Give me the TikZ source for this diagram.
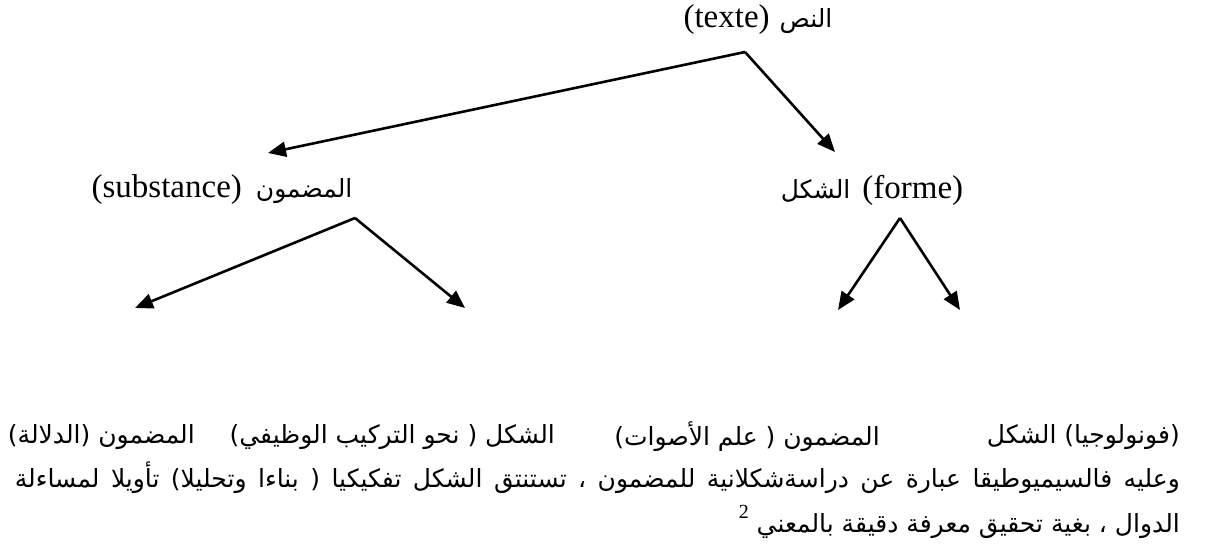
\documentclass[tikz,border=0pt]{standalone}
\usepackage{fontspec}
\setmainfont{Liberation Serif}
\newfontfamily\ar[Script=Arabic]{DejaVu Sans}
\TeXXeTstate=1
\usetikzlibrary{arrows.meta}
% Latin run inside right-to-left text
\newcommand\lat[1]{\beginL{\rmfamily\fontsize{33}{40}\selectfont #1}\endL}
\newcommand\artext{\ar\fontsize{25}{30}\selectfont}
\tikzset{
  branch/.style={line width=2.6pt, -{Triangle[length=18pt,width=15pt]}},
  lbl/.style={inner sep=0pt, font=\artext},
}
\begin{document}
\begin{tikzpicture}[x=1pt,y=-1pt]
\useasboundingbox (0,0) rectangle (1210,557);

% tree labels
\node[lbl] (texte) at (758,20) {\beginR النص\hspace{10pt}\lat{(texte)}\endR};
\node[lbl] (subst) at (222,190) {\beginR المضمون\hspace{14pt}\lat{(substance)}\endR};
\node[lbl] (forme) at (872,190) {\beginR\lat{(forme)}\hspace{12pt}الشكل\endR};

% leaves
\node[lbl,anchor=east] (phon) at (1180,437) {\beginR (فونولوجيا) الشكل\endR};
\node[lbl,anchor=east] (phonet) at (880,437) {\beginR المضمون ( علم الأصوات)\endR};
\node[lbl,anchor=east] (synt) at (555,437) {\beginR الشكل ( نحو التركيب الوظيفي)\endR};
\node[lbl,anchor=east] (sem) at (195,437) {\beginR المضمون (الدلالة)\endR};

% closing paragraph
\node[lbl,anchor=east] (par1) at (1180,478) {\spaceskip=0.3em plus 3em minus 0.1em
  \hbox to 1165pt{\beginR وعليه فالسيميوطيقا عبارة عن دراسةشكلانية للمضمون ، تستنتق الشكل تفكيكيا ( بناءا وتحليلا) تأويلا لمساءلة\endR}};
\node[lbl,anchor=east] (par2) at (1180,522) {\beginR الدوال ، بغية تحقيق معرفة دقيقة بالمعني \raisebox{14pt}{\lat{\fontsize{20}{24}\selectfont 2}}\endR};

% branching points and arrow tips
\coordinate (apexT) at (745,52);
\coordinate (tipTL) at (268,153);
\coordinate (tipTR) at (835,152);
\coordinate (apexL) at (355,218);
\coordinate (tipLL) at (135,308);
\coordinate (tipLR) at (465,308);
\coordinate (apexR) at (900,218);
\coordinate (tipRL) at (838,310);
\coordinate (tipRR) at (960,310);

\draw[branch] (apexT) -- (tipTL);
\draw[branch] (apexT) -- (tipTR);
\draw[branch] (apexL) -- (tipLL);
\draw[branch] (apexL) -- (tipLR);
\draw[branch] (apexR) -- (tipRL);
\draw[branch] (apexR) -- (tipRR);
\end{tikzpicture}
\end{document}
